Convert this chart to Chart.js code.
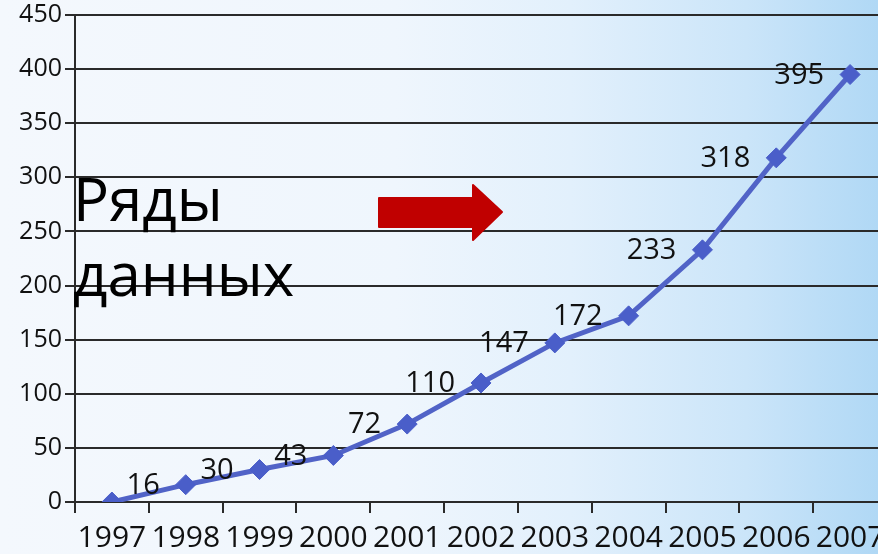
<!DOCTYPE html>
<html lang="ru">
<head>
<meta charset="utf-8">
<title>Ряды данных</title>
<script src="https://cdn.jsdelivr.net/npm/chart.js@4.4.1/dist/chart.umd.min.js"></script>
<style>
  html, body { margin: 0; padding: 0; overflow: hidden; }
  body {
    width: 878px; height: 554px;
    background: linear-gradient(to right, #f4f8fd 0%, #eff6fd 45%, #e2f0fc 65%, #cbe5f9 85%, #b0d8f5 100%);
    font-family: "Open Sans", sans-serif;
  }
  #chart { position: absolute; left: 0; top: 0; }
  #caption {
    position: absolute; left: 73px; top: 161px;
    font-size: 60px; line-height: 75px; color: #000;
    pointer-events: none;
  }
  #arrow { position: absolute; left: 0; top: 0; pointer-events: none; }
</style>
</head>
<body>
<canvas id="chart" width="898" height="554"></canvas>
<div id="caption">Ряды<br>данных</div>
<svg id="arrow" width="878" height="554">
  <path d="M379 198 H473 V185 L502 212 L473 240 V227 H379 Z" fill="#c00000" stroke="#c00000" stroke-width="2" stroke-linejoin="round"/>
</svg>
<script>
'use strict';

// ── Data ─────────────────────────────────────────────────────────────────────
const years  = ['1997', '1998', '1999', '2000', '2001', '2002', '2003', '2004', '2005', '2006', '2007'];
const values = [0, 16, 30, 43, 72, 110, 147, 172, 233, 318, 395];
const Y_MIN  = 0;
const Y_MAX  = 450;
const Y_STEP = 50;

const FONT    = '"Open Sans", sans-serif';
const LINE    = '#5163c7';
const MARKER  = '#4a5ec9';
const GRID    = '#2a2a2a';

// values written to the left of each point (zero point has none)
const pointLabels = {
  id: 'pointLabels',
  afterDatasetsDraw(chart) {
    const ctx  = chart.ctx;
    const meta = chart.getDatasetMeta(0);
    ctx.save();
    ctx.font = `29px ${FONT}`;
    ctx.fillStyle = '#111';
    ctx.textAlign = 'right';
    ctx.textBaseline = 'middle';
    meta.data.forEach((pt, i) => {
      const v = values[i];
      if (!v) return;
      ctx.fillText(String(v), pt.x - 26, pt.y + 1);
    });
    ctx.restore();
  }
};

new Chart(document.getElementById('chart'), {
  type: 'line',
  data: {
    labels: years,
    datasets: [{
      data: values,
      borderColor: LINE,
      borderWidth: 5,
      tension: 0,
      pointStyle: 'rectRot',
      pointRadius: 10,
      pointBackgroundColor: MARKER,
      pointBorderColor: MARKER,
      pointBorderWidth: 1,
    }],
  },
  options: {
    responsive: false,
    animation: false,
    devicePixelRatio: 1,
    layout: { padding: { top: 15, left: 0, right: 0, bottom: 0 } },
    plugins: { legend: { display: false }, tooltip: { enabled: false } },
    scales: {
      x: {
        type: 'category',
        offset: true,
        grid: { offset: true, drawOnChartArea: false, drawTicks: true, tickLength: 11, color: GRID, lineWidth: 2 },
        border: { display: true, color: GRID, width: 2 },
        ticks: { color: '#111', font: { family: FONT, size: 30 }, padding: 7, maxRotation: 0, autoSkip: false },
        afterFit: s => { s.height = 52; s.paddingLeft = 0; s.paddingRight = 0; },
      },
      y: {
        min: Y_MIN, max: Y_MAX,
        grid: { color: GRID, lineWidth: 2, tickLength: 10 },
        border: { display: true, color: GRID, width: 2 },
        ticks: { stepSize: Y_STEP, color: '#111', font: { family: FONT, size: 25 }, padding: 3 },
        afterFit: s => { s.width = 75; s.paddingTop = 0; s.paddingBottom = 0; },
      },
    },
  },
  plugins: [pointLabels],
});
</script>
</body>
</html>
